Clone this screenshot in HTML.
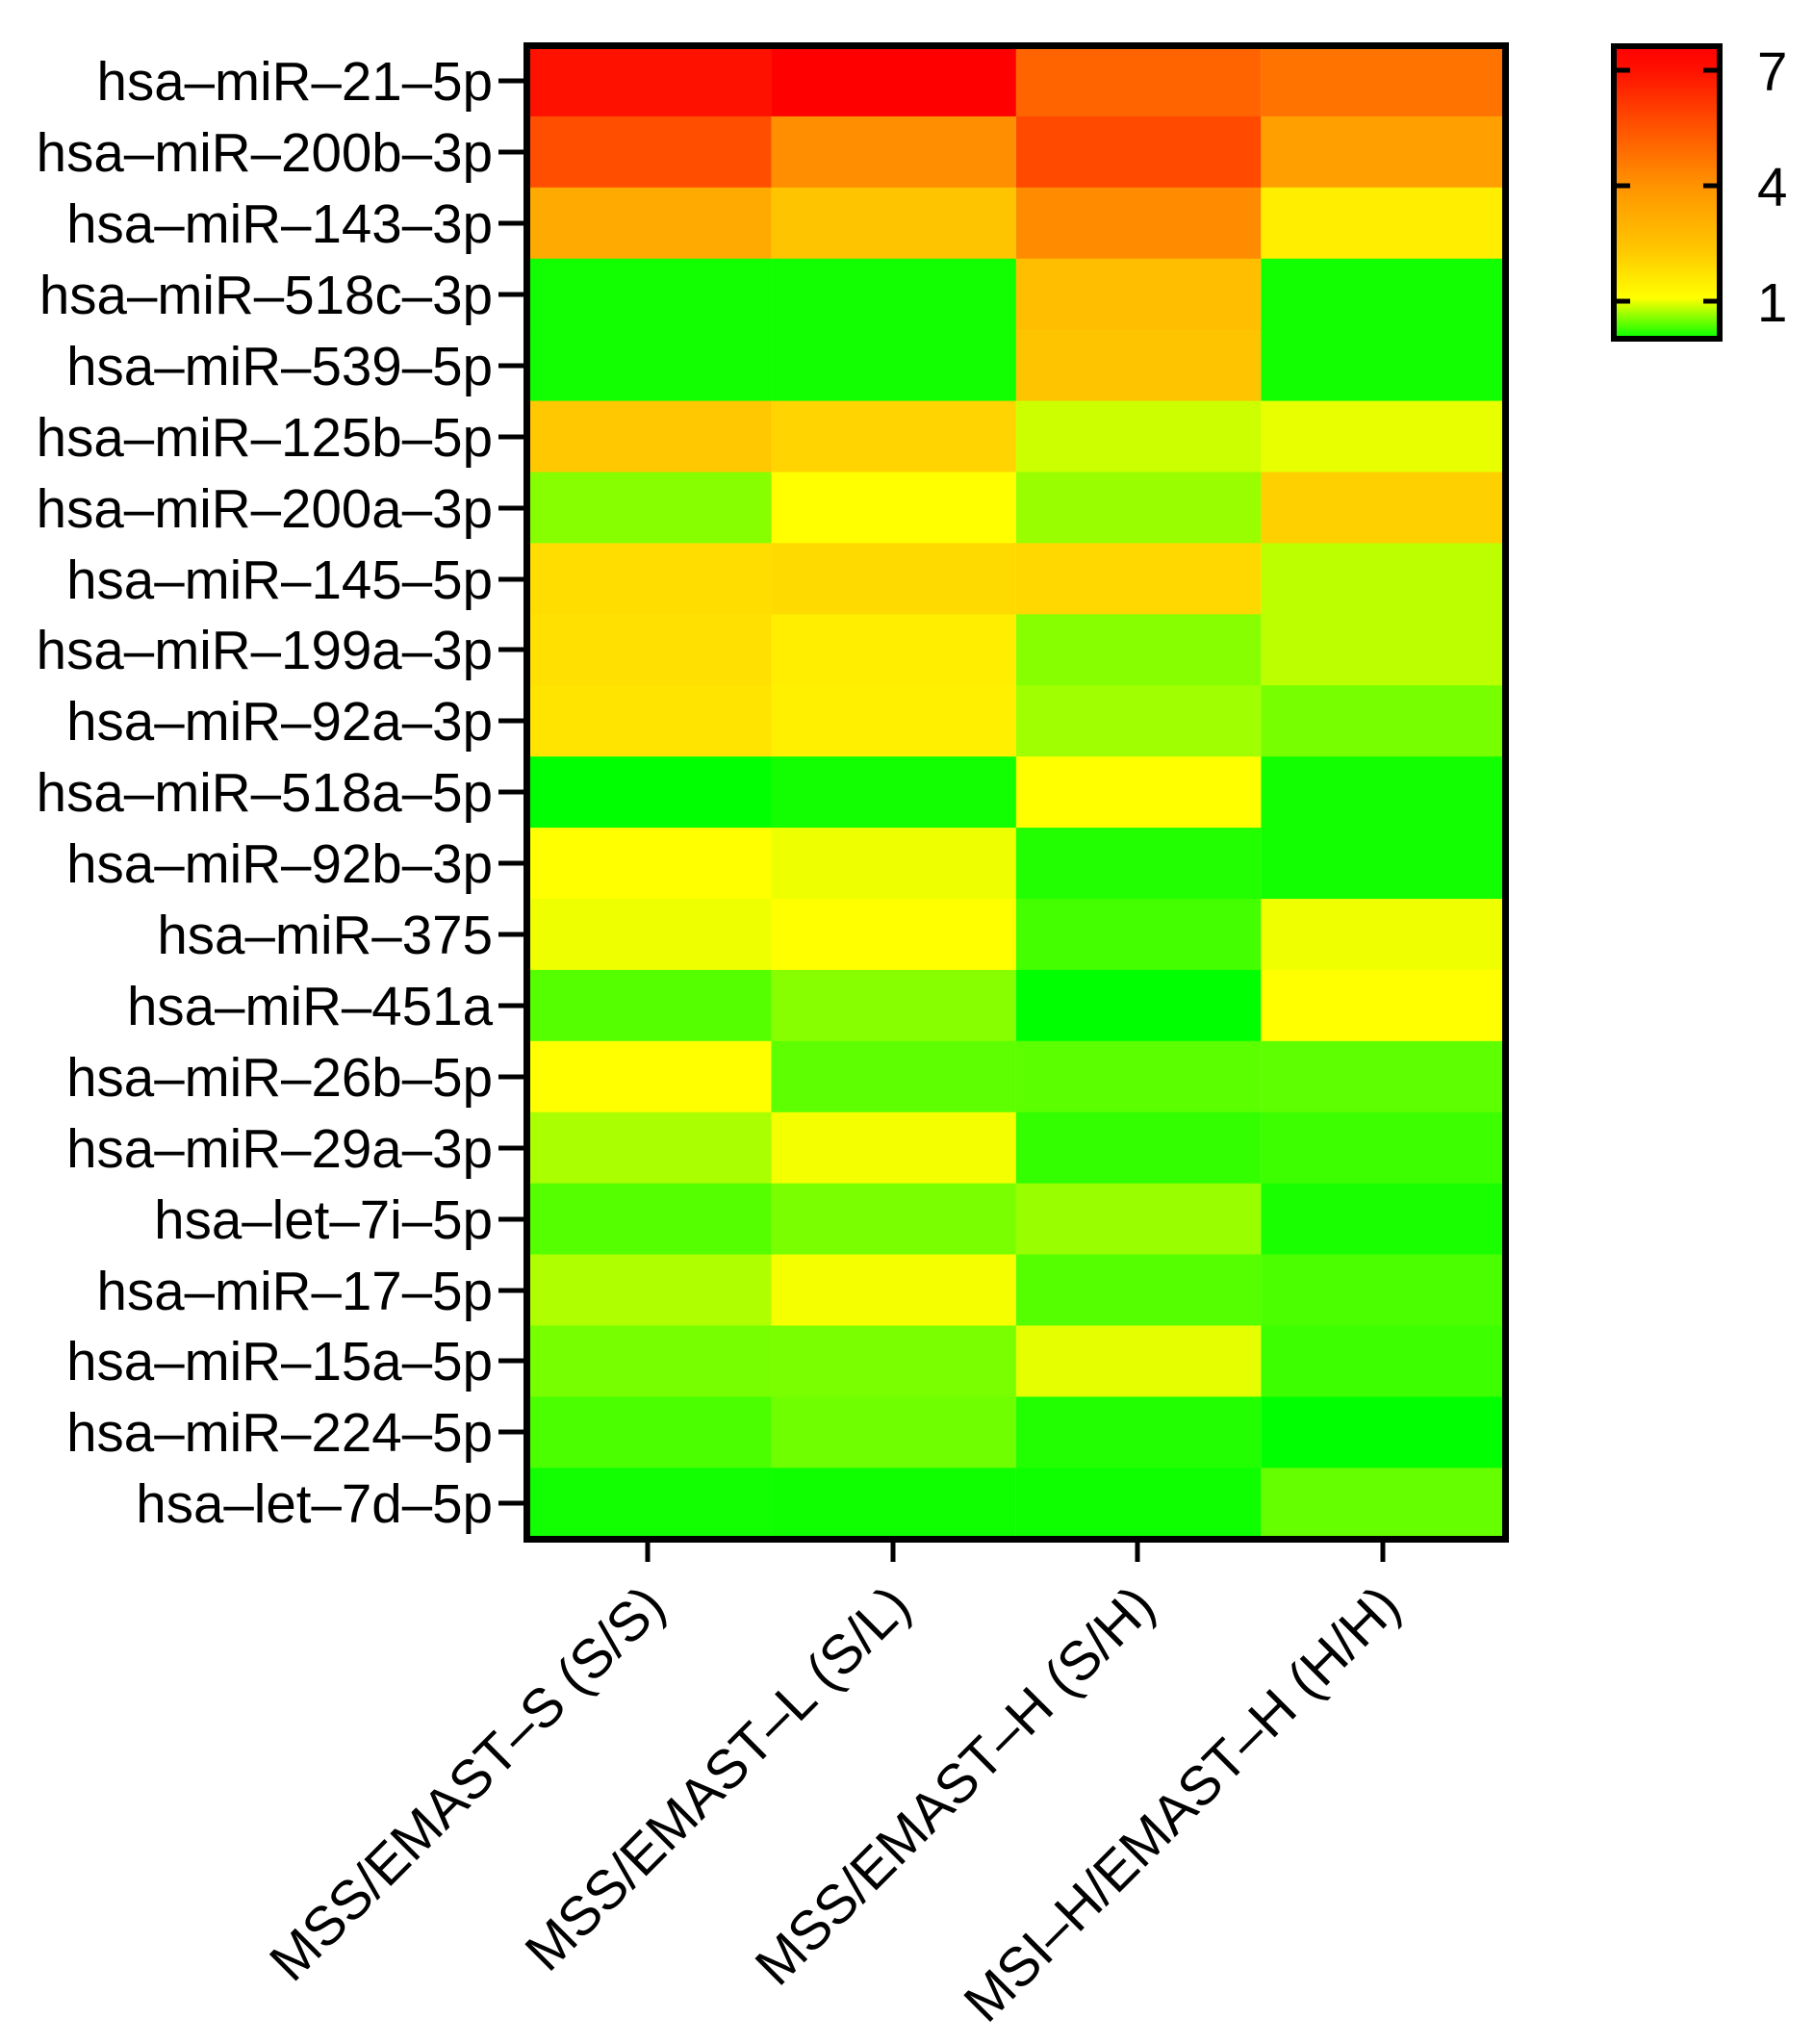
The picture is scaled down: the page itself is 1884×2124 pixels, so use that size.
<!DOCTYPE html>
<html><head><meta charset="utf-8"><style>
html,body{margin:0;padding:0;background:#fff;}
svg{display:block;}
text{font-family:"Liberation Sans",Arial,sans-serif;fill:#000;}
</style></head><body>
<svg width="1884" height="2124" viewBox="0 0 1884 2124" xmlns="http://www.w3.org/2000/svg">
<defs>
<linearGradient id="cb" x1="0" y1="0" x2="0" y2="1" gradientUnits="objectBoundingBox">
<stop offset="0" stop-color="#ff0000"/>
<stop offset="0.08" stop-color="#ff1000"/>
<stop offset="0.25" stop-color="#ff4a00"/>
<stop offset="0.48" stop-color="#ff9400"/>
<stop offset="0.7" stop-color="#ffc800"/>
<stop offset="0.86" stop-color="#ffff00"/>
<stop offset="0.88" stop-color="#ddff00"/>
<stop offset="1" stop-color="#00ff00"/>
</linearGradient>
</defs>
<g transform="translate(547,47) scale(0.994,0.9975) translate(-547,-47)">
<rect x="547" y="47.0" width="256" height="74.5" fill="#ff1100"/><rect x="803" y="47.0" width="256" height="74.5" fill="#ff0000"/><rect x="1059" y="47.0" width="256" height="74.5" fill="#ff6400"/><rect x="1315" y="47.0" width="256" height="74.5" fill="#ff7400"/>
<rect x="547" y="121.1" width="256" height="74.5" fill="#ff4e00"/><rect x="803" y="121.1" width="256" height="74.5" fill="#ff8e00"/><rect x="1059" y="121.1" width="256" height="74.5" fill="#ff4a00"/><rect x="1315" y="121.1" width="256" height="74.5" fill="#ffa000"/>
<rect x="547" y="195.2" width="256" height="74.5" fill="#ffaa00"/><rect x="803" y="195.2" width="256" height="74.5" fill="#ffc400"/><rect x="1059" y="195.2" width="256" height="74.5" fill="#ff8c00"/><rect x="1315" y="195.2" width="256" height="74.5" fill="#ffee00"/>
<rect x="547" y="269.3" width="256" height="74.5" fill="#11ff00"/><rect x="803" y="269.3" width="256" height="74.5" fill="#11ff00"/><rect x="1059" y="269.3" width="256" height="74.5" fill="#ffbf00"/><rect x="1315" y="269.3" width="256" height="74.5" fill="#11ff00"/>
<rect x="547" y="343.4" width="256" height="74.5" fill="#11ff00"/><rect x="803" y="343.4" width="256" height="74.5" fill="#11ff00"/><rect x="1059" y="343.4" width="256" height="74.5" fill="#ffc400"/><rect x="1315" y="343.4" width="256" height="74.5" fill="#11ff00"/>
<rect x="547" y="417.5" width="256" height="74.5" fill="#ffc800"/><rect x="803" y="417.5" width="256" height="74.5" fill="#ffd400"/><rect x="1059" y="417.5" width="256" height="74.5" fill="#ccff00"/><rect x="1315" y="417.5" width="256" height="74.5" fill="#e8ff00"/>
<rect x="547" y="491.6" width="256" height="74.5" fill="#88ff00"/><rect x="803" y="491.6" width="256" height="74.5" fill="#ffff00"/><rect x="1059" y="491.6" width="256" height="74.5" fill="#99ff00"/><rect x="1315" y="491.6" width="256" height="74.5" fill="#ffd000"/>
<rect x="547" y="565.7" width="256" height="74.5" fill="#ffdd00"/><rect x="803" y="565.7" width="256" height="74.5" fill="#ffda00"/><rect x="1059" y="565.7" width="256" height="74.5" fill="#ffd800"/><rect x="1315" y="565.7" width="256" height="74.5" fill="#bbff00"/>
<rect x="547" y="639.8" width="256" height="74.5" fill="#ffe000"/><rect x="803" y="639.8" width="256" height="74.5" fill="#ffee00"/><rect x="1059" y="639.8" width="256" height="74.5" fill="#88ff00"/><rect x="1315" y="639.8" width="256" height="74.5" fill="#bbff00"/>
<rect x="547" y="713.9" width="256" height="74.5" fill="#ffe400"/><rect x="803" y="713.9" width="256" height="74.5" fill="#fff000"/><rect x="1059" y="713.9" width="256" height="74.5" fill="#a0ff00"/><rect x="1315" y="713.9" width="256" height="74.5" fill="#77ff00"/>
<rect x="547" y="788.0" width="256" height="74.5" fill="#00ff00"/><rect x="803" y="788.0" width="256" height="74.5" fill="#11ff00"/><rect x="1059" y="788.0" width="256" height="74.5" fill="#ffff00"/><rect x="1315" y="788.0" width="256" height="74.5" fill="#11ff00"/>
<rect x="547" y="862.1" width="256" height="74.5" fill="#ffff00"/><rect x="803" y="862.1" width="256" height="74.5" fill="#eeff00"/><rect x="1059" y="862.1" width="256" height="74.5" fill="#22ff00"/><rect x="1315" y="862.1" width="256" height="74.5" fill="#11ff00"/>
<rect x="547" y="936.2" width="256" height="74.5" fill="#eeff00"/><rect x="803" y="936.2" width="256" height="74.5" fill="#ffff00"/><rect x="1059" y="936.2" width="256" height="74.5" fill="#44ff00"/><rect x="1315" y="936.2" width="256" height="74.5" fill="#f0ff00"/>
<rect x="547" y="1010.3" width="256" height="74.5" fill="#55ff00"/><rect x="803" y="1010.3" width="256" height="74.5" fill="#88ff00"/><rect x="1059" y="1010.3" width="256" height="74.5" fill="#00ff00"/><rect x="1315" y="1010.3" width="256" height="74.5" fill="#ffff00"/>
<rect x="547" y="1084.4" width="256" height="74.5" fill="#ffff00"/><rect x="803" y="1084.4" width="256" height="74.5" fill="#5eff00"/><rect x="1059" y="1084.4" width="256" height="74.5" fill="#5cff00"/><rect x="1315" y="1084.4" width="256" height="74.5" fill="#5eff00"/>
<rect x="547" y="1158.5" width="256" height="74.5" fill="#aaff00"/><rect x="803" y="1158.5" width="256" height="74.5" fill="#f4ff00"/><rect x="1059" y="1158.5" width="256" height="74.5" fill="#33ff00"/><rect x="1315" y="1158.5" width="256" height="74.5" fill="#3eff00"/>
<rect x="547" y="1232.6" width="256" height="74.5" fill="#55ff00"/><rect x="803" y="1232.6" width="256" height="74.5" fill="#7aff00"/><rect x="1059" y="1232.6" width="256" height="74.5" fill="#99ff00"/><rect x="1315" y="1232.6" width="256" height="74.5" fill="#1aff00"/>
<rect x="547" y="1306.7" width="256" height="74.5" fill="#b0ff00"/><rect x="803" y="1306.7" width="256" height="74.5" fill="#f5ff00"/><rect x="1059" y="1306.7" width="256" height="74.5" fill="#55ff00"/><rect x="1315" y="1306.7" width="256" height="74.5" fill="#4cff00"/>
<rect x="547" y="1380.8" width="256" height="74.5" fill="#77ff00"/><rect x="803" y="1380.8" width="256" height="74.5" fill="#7aff00"/><rect x="1059" y="1380.8" width="256" height="74.5" fill="#e6ff00"/><rect x="1315" y="1380.8" width="256" height="74.5" fill="#3eff00"/>
<rect x="547" y="1454.9" width="256" height="74.5" fill="#4cff00"/><rect x="803" y="1454.9" width="256" height="74.5" fill="#6fff00"/><rect x="1059" y="1454.9" width="256" height="74.5" fill="#22ff00"/><rect x="1315" y="1454.9" width="256" height="74.5" fill="#00ff00"/>
<rect x="547" y="1529.0" width="256" height="74.5" fill="#11ff00"/><rect x="803" y="1529.0" width="256" height="74.5" fill="#0fff00"/><rect x="1059" y="1529.0" width="256" height="74.5" fill="#0dff00"/><rect x="1315" y="1529.0" width="256" height="74.5" fill="#66ff00"/>
</g>
<rect x="547.5" y="47.5" width="1017" height="1552" fill="none" stroke="#000" stroke-width="7"/>
<g stroke="#000" stroke-width="5">
<line x1="518" y1="84" x2="546" y2="84"/><line x1="518" y1="158" x2="546" y2="158"/><line x1="518" y1="232" x2="546" y2="232"/><line x1="518" y1="306" x2="546" y2="306"/><line x1="518" y1="380" x2="546" y2="380"/><line x1="518" y1="454" x2="546" y2="454"/><line x1="518" y1="528" x2="546" y2="528"/><line x1="518" y1="602" x2="546" y2="602"/><line x1="518" y1="675" x2="546" y2="675"/><line x1="518" y1="749" x2="546" y2="749"/><line x1="518" y1="823" x2="546" y2="823"/><line x1="518" y1="897" x2="546" y2="897"/><line x1="518" y1="971" x2="546" y2="971"/><line x1="518" y1="1045" x2="546" y2="1045"/><line x1="518" y1="1119" x2="546" y2="1119"/><line x1="518" y1="1193" x2="546" y2="1193"/><line x1="518" y1="1267" x2="546" y2="1267"/><line x1="518" y1="1341" x2="546" y2="1341"/><line x1="518" y1="1414" x2="546" y2="1414"/><line x1="518" y1="1488" x2="546" y2="1488"/><line x1="518" y1="1562" x2="546" y2="1562"/>
<line x1="673" y1="1600" x2="673" y2="1623"/><line x1="928" y1="1600" x2="928" y2="1623"/><line x1="1182" y1="1600" x2="1182" y2="1623"/><line x1="1437" y1="1600" x2="1437" y2="1623"/>
</g>
<g font-size="56.5" text-anchor="end">
<text x="512" y="104">hsa–miR–21–5p</text>
<text x="512" y="178">hsa–miR–200b–3p</text>
<text x="512" y="252">hsa–miR–143–3p</text>
<text x="512" y="326">hsa–miR–518c–3p</text>
<text x="512" y="400">hsa–miR–539–5p</text>
<text x="512" y="474">hsa–miR–125b–5p</text>
<text x="512" y="548">hsa–miR–200a–3p</text>
<text x="512" y="622">hsa–miR–145–5p</text>
<text x="512" y="695">hsa–miR–199a–3p</text>
<text x="512" y="769">hsa–miR–92a–3p</text>
<text x="512" y="843">hsa–miR–518a–5p</text>
<text x="512" y="917">hsa–miR–92b–3p</text>
<text x="512" y="991">hsa–miR–375</text>
<text x="512" y="1065">hsa–miR–451a</text>
<text x="512" y="1139">hsa–miR–26b–5p</text>
<text x="512" y="1213">hsa–miR–29a–3p</text>
<text x="512" y="1287">hsa–let–7i–5p</text>
<text x="512" y="1361">hsa–miR–17–5p</text>
<text x="512" y="1434">hsa–miR–15a–5p</text>
<text x="512" y="1508">hsa–miR–224–5p</text>
<text x="512" y="1582">hsa–let–7d–5p</text>
</g>
<g font-size="57" text-anchor="end">
<text transform="translate(694,1672) rotate(-45)">MSS/EMAST–S (S/S)</text>
<text transform="translate(949,1672) rotate(-45)">MSS/EMAST–L (S/L)</text>
<text transform="translate(1203,1672) rotate(-45)">MSS/EMAST–H (S/H)</text>
<text transform="translate(1458,1672) rotate(-45)">MSI–H/EMAST–H (H/H)</text>
</g>
<rect x="1677" y="48" width="110" height="304" fill="url(#cb)" stroke="#000" stroke-width="6"/>
<g stroke="#000" stroke-width="5">
<line x1="1680" y1="73" x2="1694" y2="73"/><line x1="1770" y1="73" x2="1784" y2="73"/>
<line x1="1680" y1="193" x2="1694" y2="193"/><line x1="1770" y1="193" x2="1784" y2="193"/>
<line x1="1680" y1="313" x2="1694" y2="313"/><line x1="1770" y1="313" x2="1784" y2="313"/>
</g>
<g font-size="56.5">
<text x="1826" y="94">7</text>
<text x="1826" y="214">4</text>
<text x="1826" y="334">1</text>
</g>
</svg>
</body></html>
